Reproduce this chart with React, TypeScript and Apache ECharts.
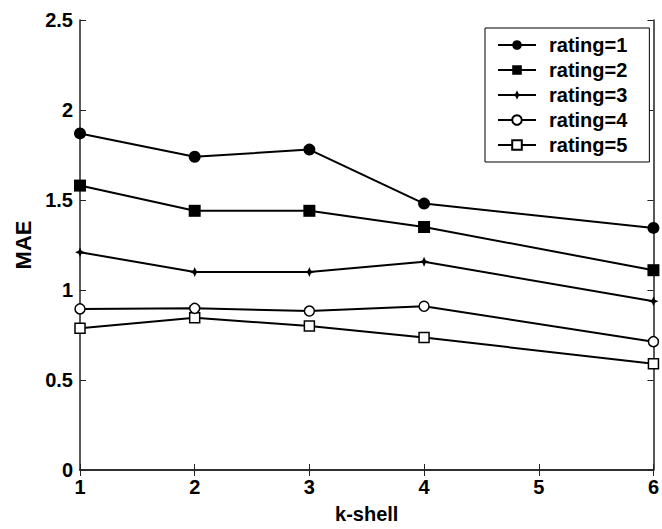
import React, { useEffect, useRef } from "react";
import * as echarts from "echarts";

const kShell = [1, 2, 3, 4, 6];
const rating1 = [1.87, 1.74, 1.78, 1.48, 1.345];
const rating2 = [1.58, 1.44, 1.44, 1.35, 1.11];
const rating3 = [1.21, 1.1, 1.1, 1.157, 0.937];
const rating4 = [0.895, 0.898, 0.883, 0.91, 0.713];
const rating5 = [0.788, 0.846, 0.8, 0.736, 0.59];
const seriesNames = ["rating=1", "rating=2", "rating=3", "rating=4", "rating=5"];
const yTicks = [0, 0.5, 1, 1.5, 2, 2.5];

const FONT = "Liberation Sans, Arial, sans-serif";
const star = "path://M0,-10 L3,-3 L10,0 L3,3 L0,10 L-3,3 L-10,0 L-3,-3 Z";

export default function App() {
  const ref = useRef<HTMLDivElement>(null);
  useEffect(() => {
    if (!ref.current) return;
    const chart = echarts.init(ref.current, undefined, { renderer: "svg" });
    const allData = [rating1, rating2, rating3, rating4, rating5];
    const markers = [
      { symbol: "circle", size: 12, fill: "#000" },
      { symbol: "rect", size: 12, fill: "#000" },
      { symbol: star, size: 10, fill: "#000" },
      { symbol: "circle", size: 10, fill: "#fff" },
      { symbol: "rect", size: 10, fill: "#fff" },
    ];
    const axisLine = { show: true, lineStyle: { color: "#222", width: 1.5 } };
    const labelStyle = { color: "#000", fontSize: 20, fontWeight: "bold" as const, fontFamily: FONT };
    const tick = { show: true, inside: true, length: 6, lineStyle: { color: "#222" } };
    chart.setOption({
      animation: false,
      backgroundColor: "#fff",
      grid: { left: 80, right: 6, top: 20, bottom: 53 },
      legend: {
        orient: "vertical",
        left: 485,
        top: 28,
        padding: [7, 22, 7, 12],
        itemGap: 5,
        itemWidth: 38,
        itemHeight: 12,
        borderColor: "#000",
        borderWidth: 1,
        backgroundColor: "#fff",
        textStyle: { ...labelStyle, lineHeight: 18, padding: [0, 0, 0, 8] },
        data: seriesNames,
      },
      xAxis: [
        {
          type: "value",
          min: 1,
          max: 6,
          interval: 1,
          axisLine,
          axisTick: tick,
          axisLabel: { ...labelStyle, margin: 7 },
          splitLine: { show: false },
          name: "k-shell",
          nameLocation: "middle",
          nameGap: 34,
          nameTextStyle: { ...labelStyle },
        },
        {
          type: "value",
          position: "top",
          min: 1,
          max: 6,
          interval: 1,
          axisLine,
          axisTick: tick,
          axisLabel: { show: false },
          splitLine: { show: false },
        },
      ],
      yAxis: [
        {
          type: "value",
          min: 0,
          max: 2.5,
          interval: 0.5,
          axisLine,
          axisTick: tick,
          axisLabel: { ...labelStyle, margin: 7, formatter: (v: number) => String(yTicks.find((t) => Math.abs(t - v) < 1e-9) ?? v) },
          splitLine: { show: false },
          name: "MAE",
          nameLocation: "middle",
          nameGap: 46,
          nameTextStyle: { ...labelStyle, fontSize: 22 },
        },
        {
          type: "value",
          position: "right",
          min: 0,
          max: 2.5,
          interval: 0.5,
          axisLine,
          axisTick: tick,
          axisLabel: { show: false },
          splitLine: { show: false },
        },
      ],
      series: allData.map((d, i) => ({
        name: seriesNames[i],
        type: "line",
        xAxisIndex: 0,
        yAxisIndex: 0,
        data: d.map((v, j) => [kShell[j], v]),
        symbol: markers[i].symbol,
        symbolSize: markers[i].size,
        showAllSymbol: true,
        lineStyle: { color: "#000", width: 2 },
        itemStyle: { color: markers[i].fill, borderColor: "#000", borderWidth: markers[i].fill === "#fff" ? 1.5 : 0 },
        emphasis: { disabled: true },
        z: 10 - i,
      })),
    });
    return () => chart.dispose();
  }, []);
  return <div ref={ref} style={{ width: 662, height: 529, position: "absolute", left: 0, top: 0 }} />;
}
